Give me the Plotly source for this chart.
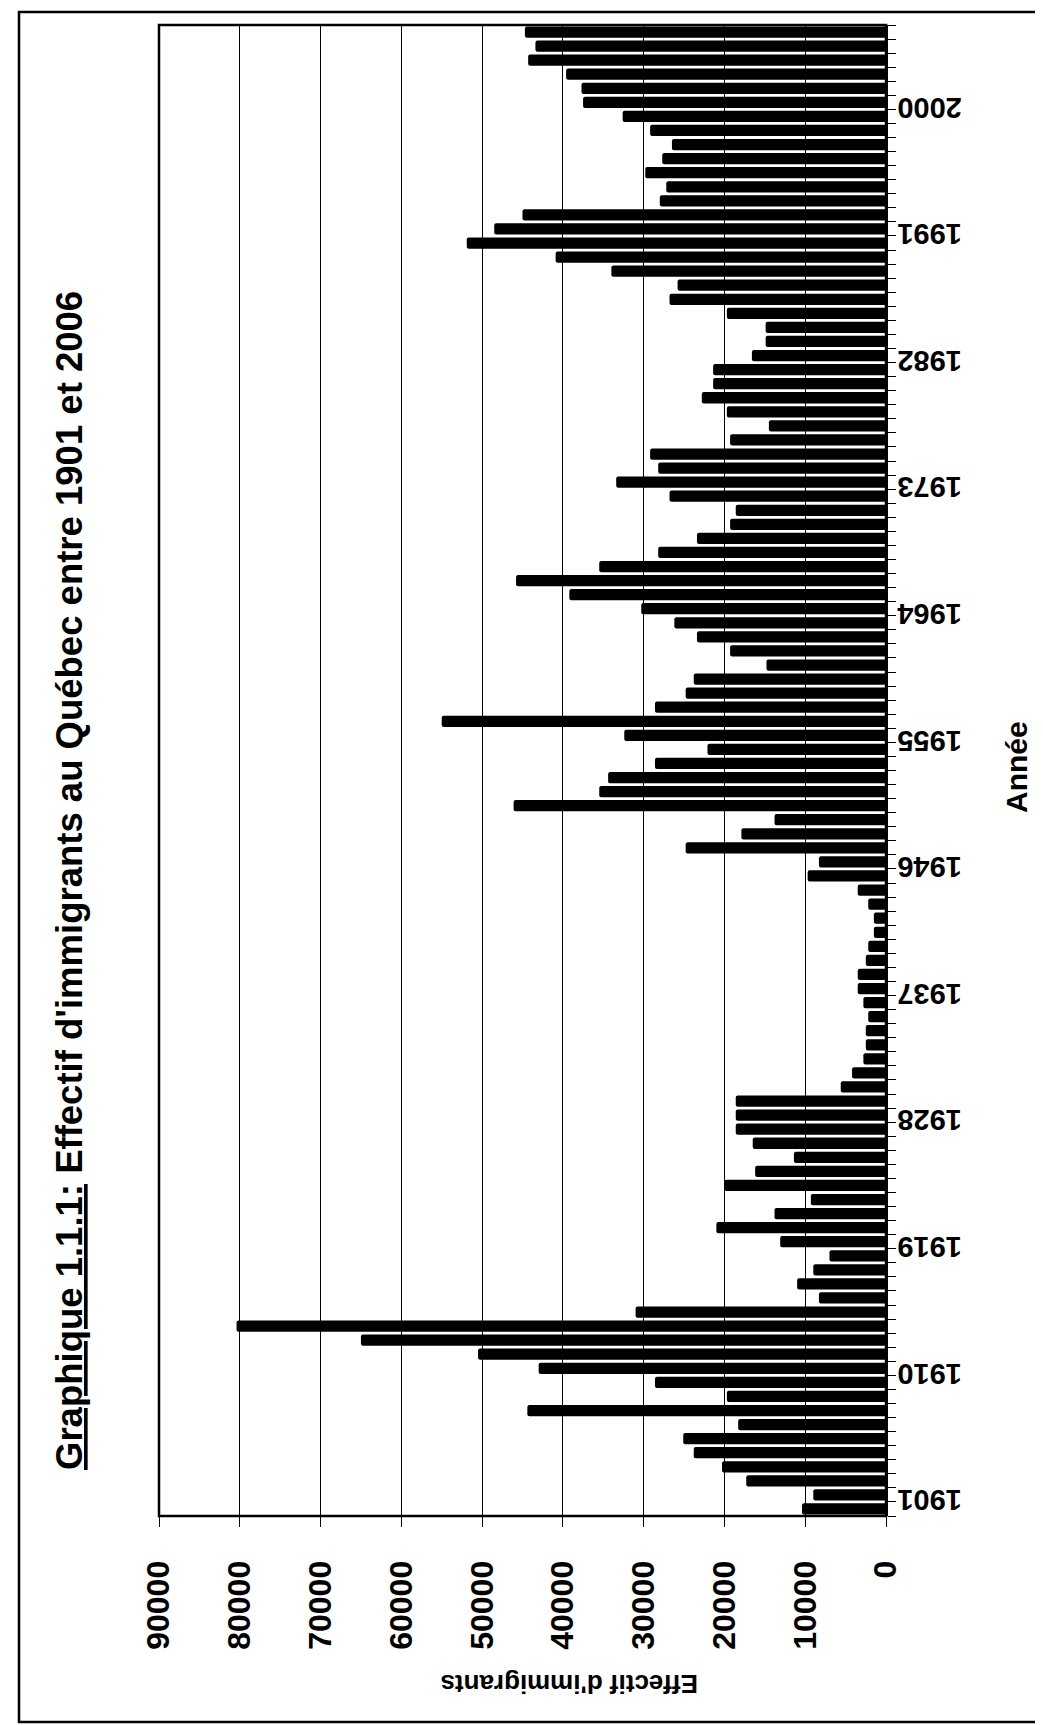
import plotly.graph_objects as go

# ---- data ----
years = list(range(1901, 2007))
immigrants = [
    10400, 9000, 17300, 20300, 23800, 25100, 18300, 44400, 19700, 28600,   # 1901-1910
    43000, 50500, 65000, 80400, 31000, 8300, 11000, 9000, 7000, 13100,     # 1911-1920
    21000, 13800, 9300, 20000, 16200, 11400, 16500, 18600, 18600, 18600,   # 1921-1930
    5600, 4200, 2800, 2500, 2500, 2200, 2800, 3500, 3500, 2500,            # 1931-1940
    2200, 1500, 1500, 2200, 3500, 9700, 8300, 24800, 17900, 13800,         # 1941-1950
    46100, 35500, 34400, 28600, 22100, 32400, 55000, 28600, 24800, 23800,  # 1951-1960
    14800, 19300, 23400, 26200, 30300, 39200, 45800, 35500, 28200, 23400,  # 1961-1970
    19300, 18600, 26800, 33400, 28200, 29200, 19300, 14500, 19700, 22800,  # 1971-1980
    21400, 21400, 16600, 14900, 14900, 19700, 26800, 25800, 34000, 40900,  # 1981-1990
    51900, 48500, 45000, 28000, 27200, 29800, 27700, 26500, 29200, 32600,  # 1991-2000
    37500, 37700, 39600, 44300, 43400, 44700,                              # 2001-2006
]
year_ticks = [1901, 1910, 1919, 1928, 1937, 1946, 1955, 1964, 1973, 1982, 1991, 2000]
value_ticks = [0, 10000, 20000, 30000, 40000, 50000, 60000, 70000, 80000, 90000]

title_text = "<u>Graphique 1.1.1:</u> Effectif d'immigrants au Québec entre 1901 et 2006"
x_title = "Effectif d'immigrants"
y_title = "Année"

# ---- layout geometry (pixels) ----
W, H = 1043, 1725
PL, PR, PT, PB = 151, 878, 17, 1508  # plot area edges
pw, ph = PR - PL, PB - PT


def px(x):
    return (x - PL) / pw


def py(y):
    return (PB - y) / ph


FONT = "Arial, Liberation Sans, sans-serif"

fig = go.Figure()
fig.add_trace(go.Bar(
    x=immigrants, y=years, orientation="h",
    marker=dict(color="black", line=dict(width=0)),
    marker_cornerradius=2,
    showlegend=False,
))

fig.update_layout(
    width=W, height=H,
    margin=dict(l=PL, r=W - PR, t=PT, b=H - PB, autoexpand=False),
    paper_bgcolor="white", plot_bgcolor="white",
    bargap=0.2,
    font=dict(family=FONT, color="black"),
    xaxis=dict(
        range=[90000, 0], autorange=False,
        tickvals=value_ticks,
        ticktext=[str(v) for v in value_ticks],
        tickangle=-90,
        tickfont=dict(size=32, family=FONT, weight="bold", color="black"),
        ticks="outside", ticklen=10, tickcolor="black", tickwidth=1,
        ticklabelstandoff=21,
        showgrid=True, gridcolor="black", gridwidth=1,
        zeroline=False, showline=False,
    ),
    yaxis=dict(
        range=[1900.5, 2006.5], autorange=False,
        side="right",
        tickvals=year_ticks,
        ticktext=[str(y) for y in year_ticks],
        tickangle=180,
        tickfont=dict(size=29, family=FONT, weight="bold", color="black"),
        ticks="", ticklabelstandoff=68,
        minor=dict(tickvals=[y - 0.5 for y in years] + [years[-1] + 0.5],
                   ticks="outside", ticklen=8, tickcolor="black", tickwidth=1,
                   showgrid=False),
        showgrid=False, zeroline=False,
        showline=True, linecolor="black", linewidth=2,
    ),
    shapes=[
        dict(type="rect", xref="paper", yref="paper", x0=0, x1=1, y0=0, y1=1,
             line=dict(color="black", width=2.5), layer="above"),
        dict(type="rect", xref="paper", yref="paper",
             x0=px(11), x1=px(1039), y0=py(4), y1=py(1714),
             line=dict(color="black", width=2.5), layer="above"),
    ],
    annotations=[
        dict(text=title_text, xref="paper", yref="paper", x=px(61), y=py(873),
             textangle=-90, showarrow=False, xanchor="center", yanchor="middle",
             font=dict(size=36.5, family=FONT, weight="bold", color="black")),
        dict(text=y_title, xref="paper", yref="paper", x=px(1008), y=py(759),
             textangle=-90, showarrow=False, xanchor="center", yanchor="middle",
             font=dict(size=30, family=FONT, weight="bold", color="black")),
        dict(text=x_title, xref="paper", yref="paper", x=px(561), y=py(1676),
             textangle=180, showarrow=False, xanchor="center", yanchor="middle",
             font=dict(size=26, family=FONT, weight="bold", color="black")),
    ],
)

fig.write_html("out.html")
